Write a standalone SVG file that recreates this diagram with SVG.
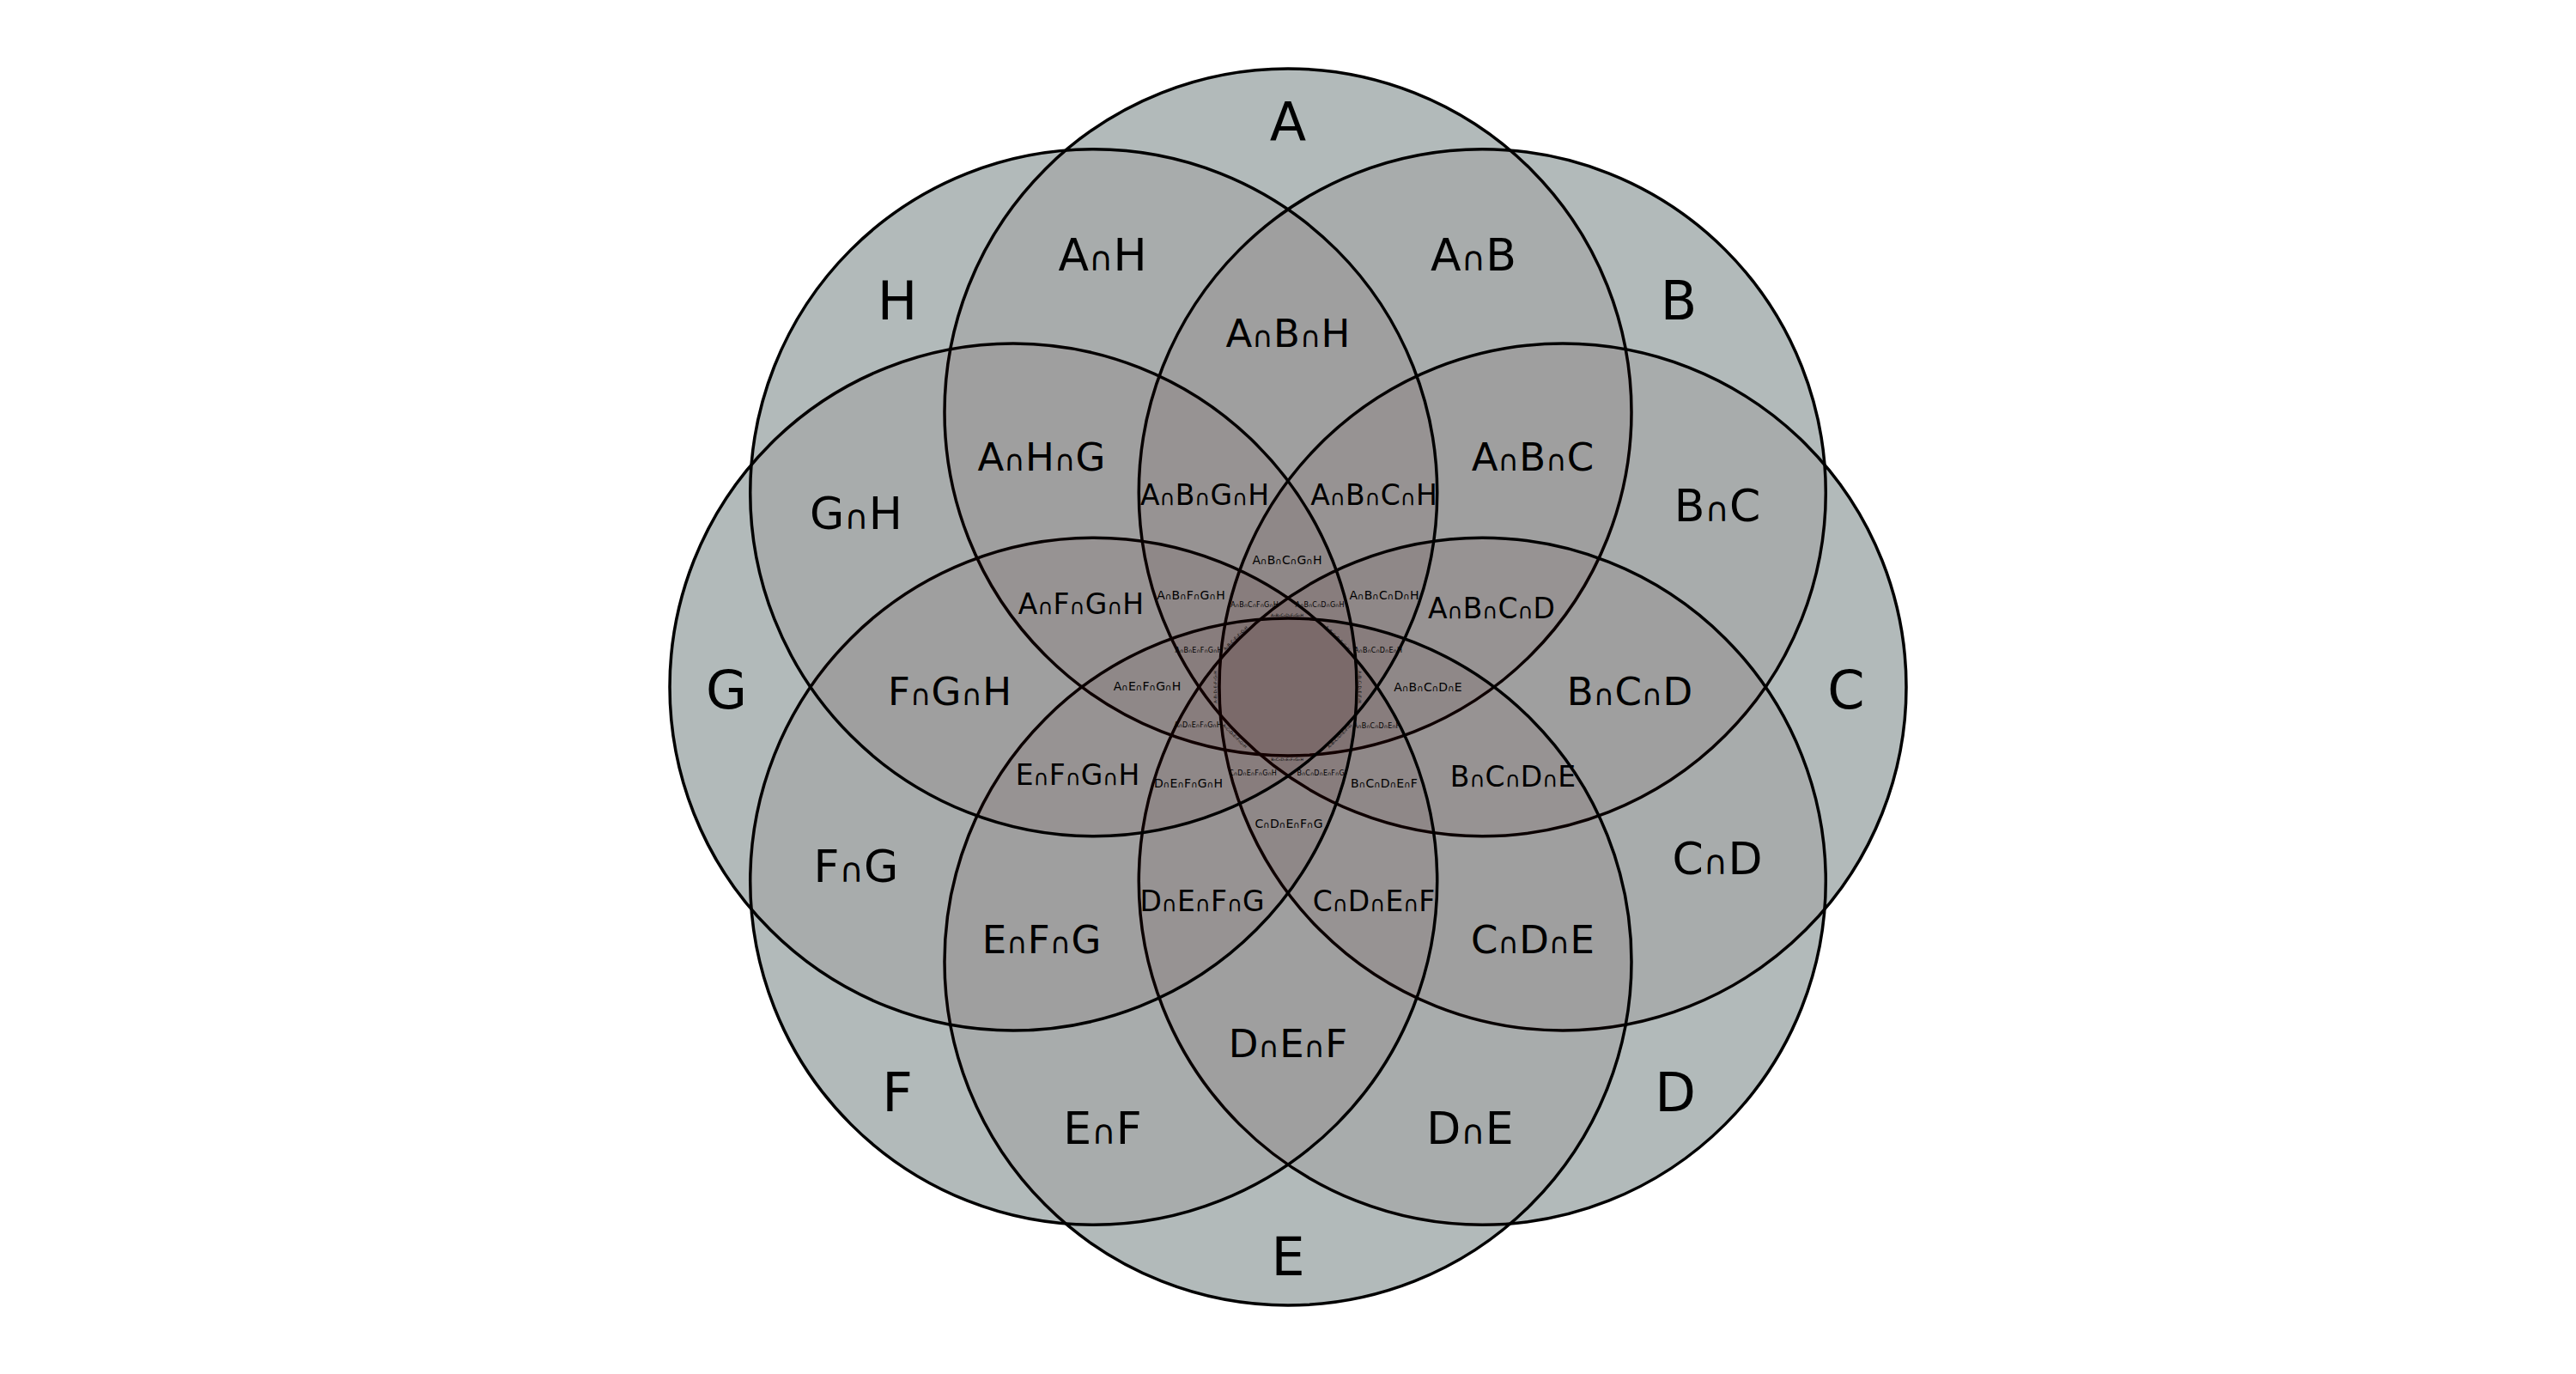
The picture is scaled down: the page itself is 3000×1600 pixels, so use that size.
<svg xmlns="http://www.w3.org/2000/svg" width="3000" height="1600" viewBox="0 0 3000 1600">
<style>
.base{fill:rgb(189,201,201);stroke:none}
.set{fill:rgb(58,0,0);fill-opacity:0.075;stroke:#000;stroke-width:3.5}
text{font-family:"DejaVu Sans","Liberation Sans",sans-serif;fill:#000;text-anchor:middle}
.n{font-size:0.75em}
.t1{font-size:62px}.t2{font-size:52px}.t3{font-size:45px}.t4{font-size:33px}
.t5{font-size:14px}.t6{font-size:8px}.t7{font-size:4.6px}
</style>
<rect width="3000" height="1600" fill="#fff"/>
<g id="base">
<circle class="base" cx="1500" cy="480" r="400"/>
<circle class="base" cx="1726.27" cy="573.73" r="400"/>
<circle class="base" cx="1820" cy="800" r="400"/>
<circle class="base" cx="1726.27" cy="1026.27" r="400"/>
<circle class="base" cx="1500" cy="1120" r="400"/>
<circle class="base" cx="1273.73" cy="1026.27" r="400"/>
<circle class="base" cx="1180" cy="800" r="400"/>
<circle class="base" cx="1273.73" cy="573.73" r="400"/>
</g>
<g id="set-A"><circle class="set" cx="1500" cy="480" r="400"/><text class="t1" x="1500" y="164">A</text></g>
<g id="set-B"><circle class="set" cx="1726.27" cy="573.73" r="400"/><text class="t1" x="1955" y="372">B</text></g>
<g id="set-C"><circle class="set" cx="1820" cy="800" r="400"/><text class="t1" x="2150" y="825">C</text></g>
<g id="set-D"><circle class="set" cx="1726.27" cy="1026.27" r="400"/><text class="t1" x="1951" y="1294">D</text></g>
<g id="set-E"><circle class="set" cx="1500" cy="1120" r="400"/><text class="t1" x="1500" y="1485">E</text></g>
<g id="set-F"><circle class="set" cx="1273.73" cy="1026.27" r="400"/><text class="t1" x="1045" y="1294">F</text></g>
<g id="set-G"><circle class="set" cx="1180" cy="800" r="400"/><text class="t1" x="846" y="825">G</text></g>
<g id="set-H"><circle class="set" cx="1273.73" cy="573.73" r="400"/><text class="t1" x="1045" y="372">H</text></g>
<g id="regions">
<g id="two" class="t2">
<text x="1284" y="315">A<tspan class="n">∩</tspan>H</text>
<text x="1716" y="315">A<tspan class="n">∩</tspan>B</text>
<text x="2000" y="607">B<tspan class="n">∩</tspan>C</text>
<text x="2000" y="1018">C<tspan class="n">∩</tspan>D</text>
<text x="1712" y="1332">D<tspan class="n">∩</tspan>E</text>
<text x="1284" y="1332">E<tspan class="n">∩</tspan>F</text>
<text x="997" y="1027">F<tspan class="n">∩</tspan>G</text>
<text x="997" y="616">G<tspan class="n">∩</tspan>H</text>
</g>
<g id="three" class="t3">
<text x="1500" y="404">A<tspan class="n">∩</tspan>B<tspan class="n">∩</tspan>H</text>
<text x="1785" y="548">A<tspan class="n">∩</tspan>B<tspan class="n">∩</tspan>C</text>
<text x="1898" y="821">B<tspan class="n">∩</tspan>C<tspan class="n">∩</tspan>D</text>
<text x="1785" y="1110">C<tspan class="n">∩</tspan>D<tspan class="n">∩</tspan>E</text>
<text x="1500" y="1231">D<tspan class="n">∩</tspan>E<tspan class="n">∩</tspan>F</text>
<text x="1213" y="1110">E<tspan class="n">∩</tspan>F<tspan class="n">∩</tspan>G</text>
<text x="1106" y="821">F<tspan class="n">∩</tspan>G<tspan class="n">∩</tspan>H</text>
<text x="1213" y="548">A<tspan class="n">∩</tspan>H<tspan class="n">∩</tspan>G</text>
</g>
<g id="four" class="t4">
<text x="1403" y="588">A<tspan class="n">∩</tspan>B<tspan class="n">∩</tspan>G<tspan class="n">∩</tspan>H</text>
<text x="1600" y="588">A<tspan class="n">∩</tspan>B<tspan class="n">∩</tspan>C<tspan class="n">∩</tspan>H</text>
<text x="1737" y="720">A<tspan class="n">∩</tspan>B<tspan class="n">∩</tspan>C<tspan class="n">∩</tspan>D</text>
<text x="1762" y="916">B<tspan class="n">∩</tspan>C<tspan class="n">∩</tspan>D<tspan class="n">∩</tspan>E</text>
<text x="1600" y="1061">C<tspan class="n">∩</tspan>D<tspan class="n">∩</tspan>E<tspan class="n">∩</tspan>F</text>
<text x="1400" y="1061">D<tspan class="n">∩</tspan>E<tspan class="n">∩</tspan>F<tspan class="n">∩</tspan>G</text>
<text x="1255" y="914">E<tspan class="n">∩</tspan>F<tspan class="n">∩</tspan>G<tspan class="n">∩</tspan>H</text>
<text x="1259" y="715">A<tspan class="n">∩</tspan>F<tspan class="n">∩</tspan>G<tspan class="n">∩</tspan>H</text>
</g>
<g id="five" class="t5">
<text x="1499" y="657">A<tspan class="n">∩</tspan>B<tspan class="n">∩</tspan>C<tspan class="n">∩</tspan>G<tspan class="n">∩</tspan>H</text>
<text x="1387" y="698">A<tspan class="n">∩</tspan>B<tspan class="n">∩</tspan>F<tspan class="n">∩</tspan>G<tspan class="n">∩</tspan>H</text>
<text x="1612" y="698">A<tspan class="n">∩</tspan>B<tspan class="n">∩</tspan>C<tspan class="n">∩</tspan>D<tspan class="n">∩</tspan>H</text>
<text x="1336" y="804">A<tspan class="n">∩</tspan>E<tspan class="n">∩</tspan>F<tspan class="n">∩</tspan>G<tspan class="n">∩</tspan>H</text>
<text x="1663" y="805">A<tspan class="n">∩</tspan>B<tspan class="n">∩</tspan>C<tspan class="n">∩</tspan>D<tspan class="n">∩</tspan>E</text>
<text x="1384" y="917">D<tspan class="n">∩</tspan>E<tspan class="n">∩</tspan>F<tspan class="n">∩</tspan>G<tspan class="n">∩</tspan>H</text>
<text x="1612" y="917">B<tspan class="n">∩</tspan>C<tspan class="n">∩</tspan>D<tspan class="n">∩</tspan>E<tspan class="n">∩</tspan>F</text>
<text x="1501" y="964">C<tspan class="n">∩</tspan>D<tspan class="n">∩</tspan>E<tspan class="n">∩</tspan>F<tspan class="n">∩</tspan>G</text>
</g>
<g id="six" class="t6">
<text x="1461" y="707">A<tspan class="n">∩</tspan>B<tspan class="n">∩</tspan>C<tspan class="n">∩</tspan>F<tspan class="n">∩</tspan>G<tspan class="n">∩</tspan>H</text>
<text x="1537" y="707">A<tspan class="n">∩</tspan>B<tspan class="n">∩</tspan>C<tspan class="n">∩</tspan>D<tspan class="n">∩</tspan>G<tspan class="n">∩</tspan>H</text>
<text x="1396" y="760">A<tspan class="n">∩</tspan>B<tspan class="n">∩</tspan>E<tspan class="n">∩</tspan>F<tspan class="n">∩</tspan>G<tspan class="n">∩</tspan>H</text>
<text x="1605" y="760">A<tspan class="n">∩</tspan>B<tspan class="n">∩</tspan>C<tspan class="n">∩</tspan>D<tspan class="n">∩</tspan>E<tspan class="n">∩</tspan>H</text>
<text x="1395" y="847">A<tspan class="n">∩</tspan>D<tspan class="n">∩</tspan>E<tspan class="n">∩</tspan>F<tspan class="n">∩</tspan>G<tspan class="n">∩</tspan>H</text>
<text x="1603" y="848">A<tspan class="n">∩</tspan>B<tspan class="n">∩</tspan>C<tspan class="n">∩</tspan>D<tspan class="n">∩</tspan>E<tspan class="n">∩</tspan>F</text>
<text x="1459" y="903">C<tspan class="n">∩</tspan>D<tspan class="n">∩</tspan>E<tspan class="n">∩</tspan>F<tspan class="n">∩</tspan>G<tspan class="n">∩</tspan>H</text>
<text x="1538" y="903">B<tspan class="n">∩</tspan>C<tspan class="n">∩</tspan>D<tspan class="n">∩</tspan>E<tspan class="n">∩</tspan>F<tspan class="n">∩</tspan>G</text>
</g>
<g id="seven" class="t7">
<text transform="translate(1499,716)" y="1.7">A<tspan class="n">∩</tspan>B<tspan class="n">∩</tspan>C<tspan class="n">∩</tspan>D<tspan class="n">∩</tspan>F<tspan class="n">∩</tspan>G<tspan class="n">∩</tspan>H</text>
<text transform="translate(1558,743) rotate(45)" y="1.7">A<tspan class="n">∩</tspan>B<tspan class="n">∩</tspan>C<tspan class="n">∩</tspan>D<tspan class="n">∩</tspan>E<tspan class="n">∩</tspan>G<tspan class="n">∩</tspan>H</text>
<text transform="translate(1584,800) rotate(90)" y="1.7">A<tspan class="n">∩</tspan>B<tspan class="n">∩</tspan>C<tspan class="n">∩</tspan>D<tspan class="n">∩</tspan>E<tspan class="n">∩</tspan>F<tspan class="n">∩</tspan>H</text>
<text transform="translate(1560,857) rotate(-45)" y="1.7">A<tspan class="n">∩</tspan>B<tspan class="n">∩</tspan>C<tspan class="n">∩</tspan>D<tspan class="n">∩</tspan>E<tspan class="n">∩</tspan>F<tspan class="n">∩</tspan>G</text>
<text transform="translate(1499,884)" y="1.7">B<tspan class="n">∩</tspan>C<tspan class="n">∩</tspan>D<tspan class="n">∩</tspan>E<tspan class="n">∩</tspan>F<tspan class="n">∩</tspan>G<tspan class="n">∩</tspan>H</text>
<text transform="translate(1438,857) rotate(45)" y="1.7">A<tspan class="n">∩</tspan>C<tspan class="n">∩</tspan>D<tspan class="n">∩</tspan>E<tspan class="n">∩</tspan>F<tspan class="n">∩</tspan>G<tspan class="n">∩</tspan>H</text>
<text transform="translate(1415,800) rotate(-90)" y="1.7">A<tspan class="n">∩</tspan>B<tspan class="n">∩</tspan>D<tspan class="n">∩</tspan>E<tspan class="n">∩</tspan>F<tspan class="n">∩</tspan>G<tspan class="n">∩</tspan>H</text>
<text transform="translate(1439,743) rotate(-45)" y="1.7">A<tspan class="n">∩</tspan>B<tspan class="n">∩</tspan>C<tspan class="n">∩</tspan>E<tspan class="n">∩</tspan>F<tspan class="n">∩</tspan>G<tspan class="n">∩</tspan>H</text>
</g>
</g>
</svg>
